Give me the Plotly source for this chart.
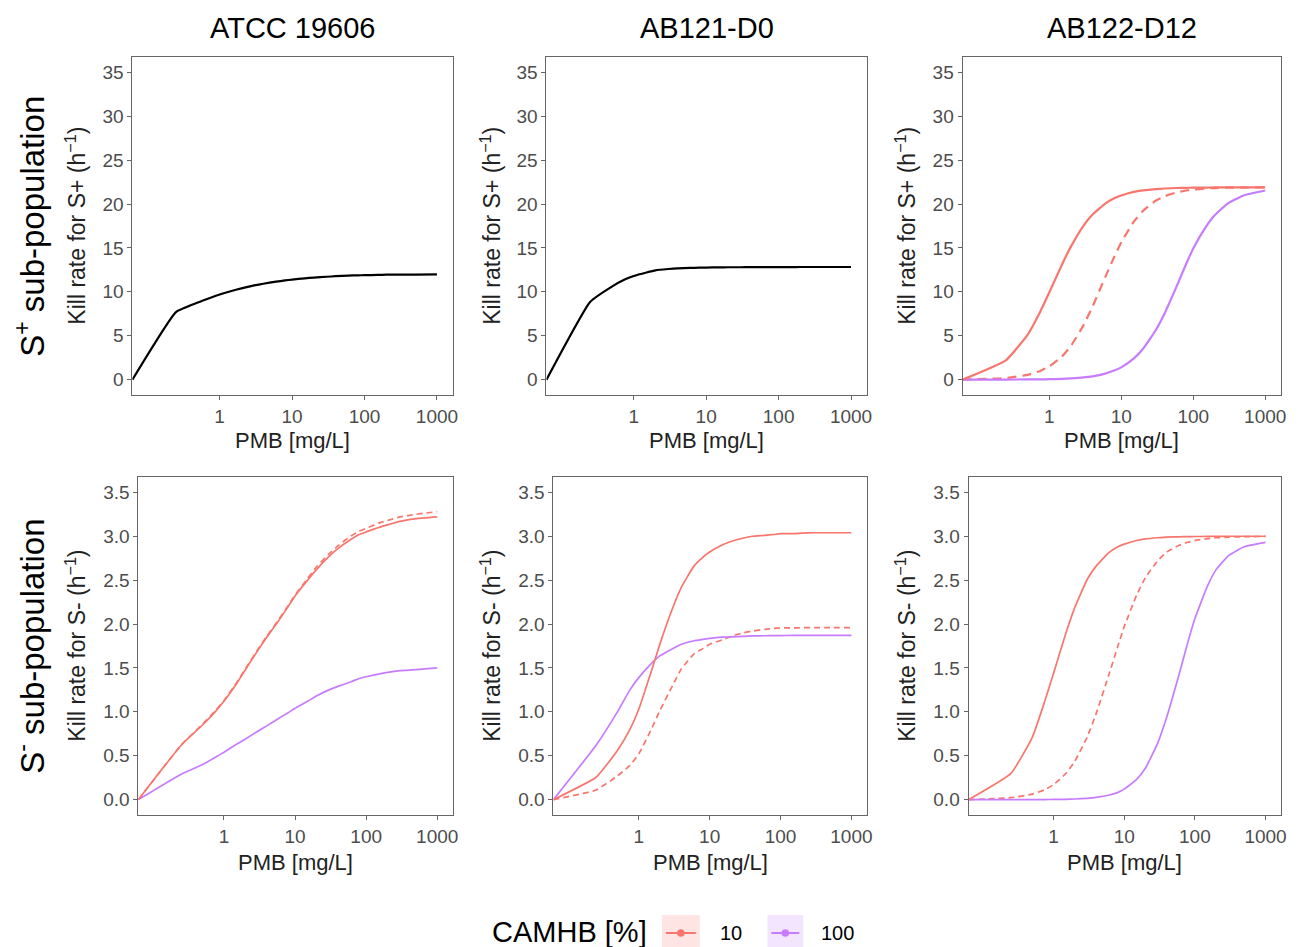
import math
import plotly.graph_objects as go

W, H = 1299, 947

# ---------------- data ----------------
CONC = [0.0625, 0.25, 0.5, 0.75, 1, 1.5, 2, 3, 4, 6, 8, 10, 15, 20, 30, 40,
        60, 80, 100, 150, 200, 300, 500, 1000]

STRAINS = ["ATCC 19606", "AB121-D0", "AB122-D12"]
ROW_LABELS = ["S<sup>+</sup> sub-population", "S<sup>-</sup> sub-population"]
Y_TITLES = ["Kill rate for S+ (h<sup>\u22121</sup>)", "Kill rate for S- (h<sup>\u22121</sup>)"]
X_TITLE = "PMB [mg/L]"
X_TICKS = [1, 10, 100, 1000]
X_TICK_LABELS = ["1", "10", "100", "1000"]
Y_TICKS_TOP = [0, 5, 10, 15, 20, 25, 30, 35]
Y_TICK_LABELS_TOP = ["0", "5", "10", "15", "20", "25", "30", "35"]
Y_TICKS_BOTTOM = [0, 0.5, 1.0, 1.5, 2.0, 2.5, 3.0, 3.5]
Y_TICK_LABELS_BOTTOM = ["0.0", "0.5", "1.0", "1.5", "2.0", "2.5", "3.0", "3.5"]
LEGEND_TITLE = "CAMHB [%]"
LEGEND_LEVELS = ["10", "100"]

# S+ sub-population
ATCC_SPLUS = [0, 7.7, 8.78, 9.33, 9.7, 10.13, 10.4, 10.73, 10.92, 11.16, 11.3, 11.39,
              11.54, 11.62, 11.72, 11.78, 11.85, 11.88, 11.9, 11.93, 11.95, 11.96,
              11.97, 11.98]
AB121_SPLUS = [0, 8.85, 10.6, 11.4, 11.8, 12.2, 12.45, 12.6, 12.68, 12.72, 12.75,
               12.77, 12.79, 12.8, 12.8, 12.81, 12.81, 12.82, 12.82, 12.82, 12.83,
               12.83, 12.83, 12.83]
AB122_SPLUS_10 = [0, 2.2, 5.1, 7.74, 9.92, 13.09, 15.15, 17.55, 18.8, 20.06, 20.65,
                  20.98, 21.38, 21.55, 21.7, 21.77, 21.83, 21.85, 21.86, 21.88,
                  21.89, 21.9, 21.9, 21.9]
AB122_SPLUS_10_DASH = [0, 0.19, 0.54, 0.99, 1.5, 2.64, 3.84, 6.21, 8.33, 11.68, 14.0,
                       15.63, 18.02, 19.2, 20.38, 20.89, 21.35, 21.54, 21.64, 21.77,
                       21.82, 21.86, 21.88, 21.9]
AB122_SPLUS_100 = [0, 0.01, 0.02, 0.03, 0.05, 0.09, 0.14, 0.25, 0.38, 0.69, 1.03, 1.4,
                   2.42, 3.49, 5.6, 7.54, 10.8, 13.2, 14.95, 17.4, 18.75, 20.05,
                   20.98, 21.54]

# S- sub-population
ATCC_SMINUS_10 = [0, 0.62, 0.85, 1.0, 1.12, 1.32, 1.48, 1.7, 1.85, 2.05, 2.2, 2.32,
                  2.5, 2.62, 2.77, 2.86, 2.96, 3.02, 3.05, 3.1, 3.13, 3.17, 3.2, 3.22]
ATCC_SMINUS_10_DASH = [0, 0.62, 0.86, 1.01, 1.13, 1.33, 1.49, 1.71, 1.86, 2.06, 2.21,
                       2.33, 2.52, 2.65, 2.8, 2.89, 3.0, 3.06, 3.09, 3.15, 3.18, 3.22,
                       3.25, 3.28]
ATCC_SMINUS_100 = [0, 0.29, 0.4, 0.48, 0.54, 0.63, 0.69, 0.78, 0.84, 0.93, 0.99, 1.04,
                   1.12, 1.18, 1.25, 1.29, 1.34, 1.38, 1.4, 1.43, 1.45, 1.47, 1.48, 1.5]
AB121_SMINUS_10 = [0, 0.255, 0.56, 0.8, 1.03, 1.46, 1.78, 2.18, 2.42, 2.66, 2.76,
                   2.82, 2.9, 2.94, 2.98, 3.0, 3.01, 3.02, 3.03, 3.03, 3.035, 3.04,
                   3.04, 3.04]
AB121_SMINUS_10_DASH = [0, 0.11, 0.27, 0.39, 0.52, 0.8, 1.02, 1.3, 1.49, 1.66, 1.72,
                        1.77, 1.82, 1.86, 1.9, 1.92, 1.94, 1.95, 1.955, 1.957, 1.958,
                        1.96, 1.96, 1.96]
AB121_SMINUS_100 = [0, 0.62, 1.0, 1.25, 1.39, 1.55, 1.64, 1.72, 1.77, 1.81, 1.825,
                    1.836, 1.85, 1.855, 1.86, 1.865, 1.867, 1.868, 1.869, 1.87, 1.87,
                    1.87, 1.87, 1.87]
AB122_SMINUS_10 = [0, 0.30, 0.71, 1.12, 1.44, 1.90, 2.19, 2.51, 2.66, 2.81, 2.877,
                   2.91, 2.952, 2.97, 2.983, 2.99, 2.994, 2.996, 2.997, 2.998, 2.999,
                   3.0, 3.0, 3.0]
AB122_SMINUS_10_DASH = [0, 0.022, 0.063, 0.113, 0.171, 0.30, 0.437, 0.716, 0.977,
                        1.41, 1.73, 1.97, 2.33, 2.53, 2.725, 2.82, 2.897, 2.932,
                        2.951, 2.973, 2.983, 2.99, 2.995, 2.998]
AB122_SMINUS_100 = [0, 0.0, 0.0, 0.001, 0.002, 0.004, 0.007, 0.015, 0.025, 0.05, 0.08,
                    0.12, 0.23, 0.36, 0.65, 0.94, 1.43, 1.8, 2.06, 2.43, 2.62, 2.78,
                    2.88, 2.93]

RED = "#F8766D"
PURPLE = "#C77CFF"
BLACK = "#000000"

# series per panel: (values, colour, dashed)
PANELS = {
    (0, 0): [(ATCC_SPLUS, BLACK, False)],
    (0, 1): [(AB121_SPLUS, BLACK, False)],
    (0, 2): [(AB122_SPLUS_10_DASH, RED, True), (AB122_SPLUS_100, PURPLE, False),
             (AB122_SPLUS_10, RED, False)],
    (1, 0): [(ATCC_SMINUS_10_DASH, RED, True), (ATCC_SMINUS_100, PURPLE, False),
             (ATCC_SMINUS_10, RED, False)],
    (1, 1): [(AB121_SMINUS_10_DASH, RED, True), (AB121_SMINUS_100, PURPLE, False),
             (AB121_SMINUS_10, RED, False)],
    (1, 2): [(AB122_SMINUS_10_DASH, RED, True), (AB122_SMINUS_100, PURPLE, False),
             (AB122_SMINUS_10, RED, False)],
}

# ---------------- layout geometry (pixels) ----------------
BOX = {
    (0, 0): (133, 455, 57, 395), (0, 1): (549, 871, 57, 395), (0, 2): (967, 1287, 57, 395),
    (1, 0): (139, 455, 477, 815), (1, 1): (556, 871, 477, 815), (1, 2): (973, 1287, 477, 815),
}
FONT = "Liberation Sans, Arial, sans-serif"
TICK_COL = "#4D4D4D"
BORDER = "#666666"


def px(x):
    return x / W


def py(y):
    return 1 - y / H


fig = go.Figure()
layout = {}

for (r, c), series in PANELS.items():
    i = r * 3 + c + 1
    xa = "x" if i == 1 else f"x{i}"
    ya = "y" if i == 1 else f"y{i}"
    x0, x1, y0, y1 = BOX[(r, c)]
    lw = 2.2 if r == 0 else 1.7
    dash = "9px,6px" if r == 0 else "6px,4px"
    for vals, col, dashed in series:
        fig.add_trace(go.Scatter(
            x=CONC, y=vals, mode="lines", xaxis=xa, yaxis=ya,
            line=dict(color=col, width=lw, dash=dash if dashed else "solid",
                      shape="spline", smoothing=0.4),
            showlegend=False, hoverinfo="skip"))
    common = dict(showline=True, mirror=True, linecolor=BORDER, linewidth=1,
                  ticks="outside", ticklen=4, tickwidth=1, tickcolor=BORDER,
                  showgrid=False, zeroline=False,
                  tickfont=dict(family=FONT, size=19, color=TICK_COL))
    layout["xaxis" if i == 1 else f"xaxis{i}"] = dict(
        domain=[px(x0), px(x1)], anchor=ya, type="log",
        range=[math.log10(0.0625), 3.22],
        tickvals=X_TICKS, ticktext=X_TICK_LABELS, **common)
    if r == 0:
        yr, yt, ytl = [-1.75, 36.75], Y_TICKS_TOP, Y_TICK_LABELS_TOP
    else:
        yr, yt, ytl = [-0.175, 3.675], Y_TICKS_BOTTOM, Y_TICK_LABELS_BOTTOM
    layout["yaxis" if i == 1 else f"yaxis{i}"] = dict(
        domain=[py(y1), py(y0)], anchor=xa, range=yr,
        tickvals=yt, ticktext=ytl, **common)

annotations = []
# strip titles
for c, name in enumerate(STRAINS):
    x0, x1, _, _ = BOX[(0, c)]
    annotations.append(dict(text=name, x=px((x0 + x1) / 2), y=py(28), xref="paper",
                            yref="paper", showarrow=False, xanchor="center",
                            yanchor="middle", font=dict(family=FONT, size=29, color="#000")))
# row labels
for r, lab in enumerate(ROW_LABELS):
    _, _, y0, y1 = BOX[(r, 0)]
    annotations.append(dict(text=lab, x=px(30), y=py((y0 + y1) / 2), xref="paper",
                            yref="paper", showarrow=False, textangle=-90,
                            xanchor="center", yanchor="middle",
                            font=dict(family=FONT, size=33, color="#000")))
# axis titles
YT_X = [76, 493, 910]
XT_Y = [441, 862]
for (r, c), (x0, x1, y0, y1) in BOX.items():
    annotations.append(dict(text=X_TITLE, x=px((x0 + x1) / 2), y=py(XT_Y[r]), xref="paper",
                            yref="paper", showarrow=False, xanchor="center",
                            yanchor="middle", font=dict(family=FONT, size=22, color="#222")))
    annotations.append(dict(text=Y_TITLES[r], x=px(YT_X[c]), y=py((y0 + y1) / 2),
                            xref="paper", yref="paper", showarrow=False, textangle=-90,
                            xanchor="center", yanchor="middle",
                            font=dict(family=FONT, size=23, color="#222")))

# legend (drawn manually to reproduce ggplot's key boxes)
shapes = []
annotations.append(dict(text=LEGEND_TITLE, x=px(492), y=py(932), xref="paper", yref="paper",
                        showarrow=False, xanchor="left", yanchor="middle",
                        font=dict(family=FONT, size=29, color="#000")))
KEYS = [(665, 703, 721, RED, "#FEE4E2"), (771, 807, 823, PURPLE, "#F4E5FF")]
for lev, (kx0, kx1, tx, col, bg) in zip(LEGEND_LEVELS, KEYS):
    shapes.append(dict(type="rect", xref="paper", yref="paper", x0=px(kx0), x1=px(kx1),
                       y0=py(950), y1=py(915), fillcolor=bg, line=dict(width=0), layer="below"))
    shapes.append(dict(type="line", xref="paper", yref="paper", x0=px(kx0 + 4), x1=px(kx1 - 4),
                       y0=py(933), y1=py(933), line=dict(color=col, width=2)))
    cx = (kx0 + kx1) / 2
    shapes.append(dict(type="circle", xref="paper", yref="paper", x0=px(cx - 3.8),
                       x1=px(cx + 3.8), y0=py(933 + 3.8), y1=py(933 - 3.8),
                       fillcolor=col, line=dict(color=col, width=0)))
    annotations.append(dict(text=lev, x=px(tx), y=py(933), xref="paper", yref="paper",
                            showarrow=False, xanchor="left", yanchor="middle",
                            font=dict(family=FONT, size=20, color="#000")))

fig.update_layout(width=W, height=H, margin=dict(l=0, r=0, t=0, b=0),
                  paper_bgcolor="white", plot_bgcolor="white",
                  annotations=annotations, shapes=shapes, **layout)

fig.write_html("out.html", config={"displayModeBar": False},
               post_script="document.body.style.margin='0px';"
                           "document.body.style.overflow='hidden';")
